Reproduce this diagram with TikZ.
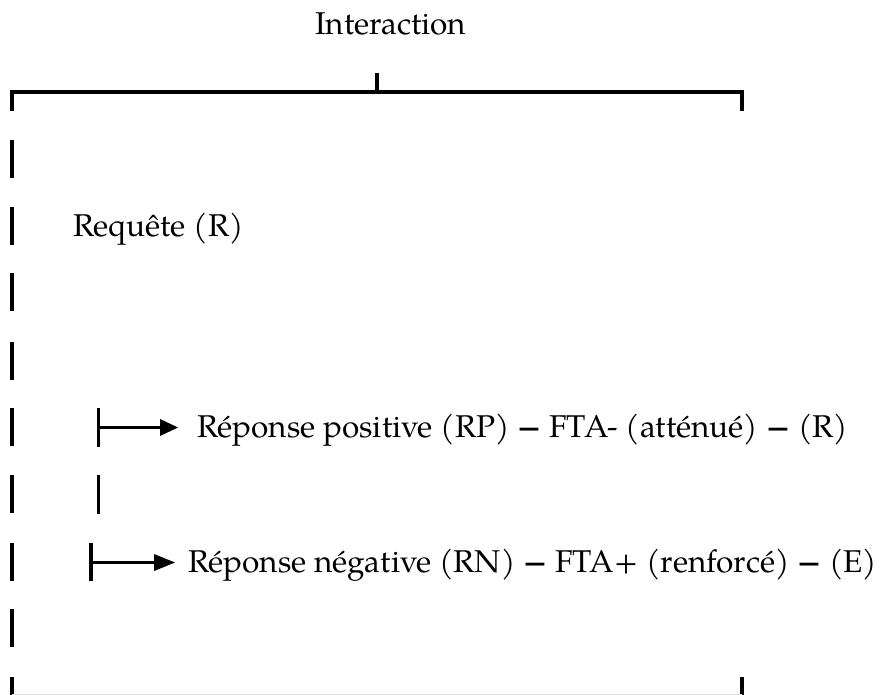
\documentclass[tikz,border=0pt]{standalone}
\usepackage{fontspec}
\setmainfont{texgyrepagella-regular.otf}
\newfontfamily\palb{texgyrepagella-bold.otf}
\newcommand{\tiret}{{\palb −}}
\begin{document}
\begin{tikzpicture}[x=1pt,y=-1pt,
  ln/.style={line width=3.3pt},
  hl/.style={line width=2.6pt},
  lbl/.style={anchor=base west,inner sep=0pt,font=\fontsize{31.5}{38}\selectfont}]
\useasboundingbox (0,0) rectangle (880,695);
% title
\node[lbl] (inter) at (315,35) {Interaction};
% top bracket
\coordinate (tl) at (12,111);
\coordinate (tlc) at (12,92);
\coordinate (trc) at (742,92);
\coordinate (tr) at (742,111);
\coordinate (tm) at (377,92);
\coordinate (tmt) at (377,73);
\draw[ln] (tl) -- (tlc) -- (trc) -- (tr);
\draw[ln] (tm) -- (tmt);
% left vertical dashes
\foreach \y in {140,207,273,342,408,475,543,609}
  \draw[ln] (12,\y) -- (12,\y+38);
% bottom bracket
\coordinate (bl) at (12,677);
\coordinate (blc) at (12,695);
\coordinate (br) at (742,677);
\coordinate (brc) at (742,695);
\draw[ln] (bl) -- (blc);
\draw[ln] (br) -- (brc);
\draw[gray!25,line width=1pt] (12,694.5) -- (742,694.5);
% texts
\node[lbl] (req) at (73,236) {Requête (R)};
\node[lbl] (rp) at (197,437) {Réponse positive (RP) \tiret{} FTA- (atténué) \tiret{} (R)};
\node[lbl] (rn) at (188,572) {Réponse négative (RN) \tiret{} FTA+ (renforcé) \tiret{} (E)};
% inner branch 1
\coordinate (j1t) at (98.5,408);
\coordinate (j1b) at (98.5,447);
\coordinate (j1) at (98.5,427.5);
\coordinate (a1) at (178,427.5);
\draw[ln] (j1t) -- (j1b);
\draw[hl] (j1) -- ([xshift=-16pt]a1);
\fill (a1) -- ++(-18,-8.5) -- ++(0,17) -- cycle;
\coordinate (mt) at (98.5,475);
\coordinate (mb) at (98.5,514);
\draw[ln] (mt) -- (mb);
% inner branch 2
\coordinate (j2t) at (91,543);
\coordinate (j2b) at (91,581);
\coordinate (j2) at (91,562.5);
\coordinate (a2) at (175,562.5);
\draw[ln] (j2t) -- (j2b);
\draw[hl] (j2) -- ([xshift=-19pt]a2);
\fill (a2) -- ++(-21,-8.5) -- ++(0,17) -- cycle;
\end{tikzpicture}
\end{document}
